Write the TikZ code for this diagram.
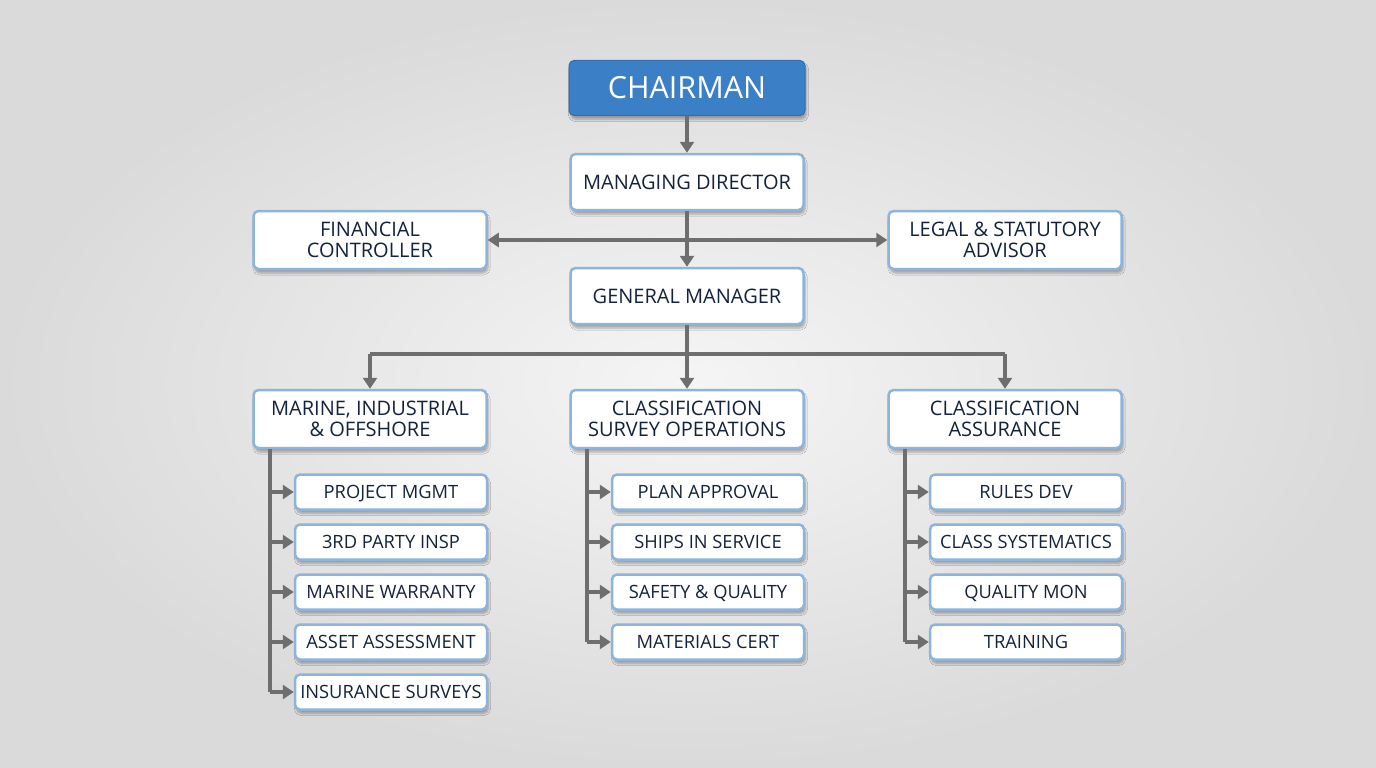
\documentclass[tikz,border=0pt]{standalone}
\usepackage{fontspec}
\setmainfont{Open Sans}
\usetikzlibrary{arrows.meta,shadows.blur,positioning}
\definecolor{bgin}{HTML}{F5F5F5}
\definecolor{bgout}{HTML}{DADADA}
\definecolor{chair}{HTML}{3B80C6}
\definecolor{chairline}{HTML}{2F6EAE}
\definecolor{boxline}{HTML}{8DB4DC}
\definecolor{txt}{HTML}{14233D}
\definecolor{conn}{HTML}{6E6E6E}
\tikzset{
  base/.style={rounded corners=5pt, line width=2.5pt, align=center, inner sep=0pt,
    blur shadow={shadow xshift=1.5pt, shadow yshift=-4pt, shadow blur steps=6, shadow opacity=30}},
  mainbox/.style={base, draw=boxline, fill=white, text=txt, minimum width=233pt, minimum height=56pt,
    font=\fontsize{20}{21}\selectfont},
  onebox/.style={mainbox, text height=14.5pt, text depth=0pt},
  subbox/.style={base, draw=boxline, fill=white, text=txt, minimum width=192pt, minimum height=35pt,
    font=\fontsize{18.3}{21}\selectfont, text height=13pt, text depth=0pt},
  topbox/.style={base, draw=chairline, fill=chair, text=white, minimum width=236pt, minimum height=55pt,
    line width=1pt, font=\fontsize{30.5}{34}\selectfont, text height=22pt, text depth=0pt},
  link/.style={draw=conn, line width=4pt},
  arr/.style={link, -{Triangle[length=11pt,width=14pt]}}
}
\begin{document}
\begin{tikzpicture}[x=1pt,y=-1pt]
\shade[inner color=bgin, outer color=bgout] (0,0) rectangle (1376,768);
\useasboundingbox (0,0) rectangle (1376,768);

\node[topbox] (ch) at (687,88) {CHAIRMAN};
\node[onebox] (md) at (687,182) {MANAGING DIRECTOR};
\node[mainbox, minimum height=58pt] (fc) at (370,240) {FINANCIAL\\CONTROLLER};
\node[mainbox, minimum height=58pt] (la) at (1005,240) {LEGAL \& STATUTORY\\ADVISOR};
\node[onebox] (gm) at (687,296) {GENERAL MANAGER};
\node[mainbox, minimum height=58pt] (mio) at (370,419) {MARINE, INDUSTRIAL\\\& OFFSHORE};
\node[mainbox, minimum height=58pt] (cso) at (687,419) {CLASSIFICATION\\SURVEY OPERATIONS};
\node[mainbox, minimum height=58pt] (ca) at (1005,419) {CLASSIFICATION\\ASSURANCE};

\node[subbox] (a1) at (391,492) {PROJECT MGMT};
\node[subbox] (a2) at (391,542) {3RD PARTY INSP};
\node[subbox] (a3) at (391,592) {MARINE WARRANTY};
\node[subbox] (a4) at (391,642) {ASSET ASSESSMENT};
\node[subbox] (a5) at (391,692) {INSURANCE SURVEYS};

\node[subbox] (b1) at (708,492) {PLAN APPROVAL};
\node[subbox] (b2) at (708,542) {SHIPS IN SERVICE};
\node[subbox] (b3) at (708,592) {SAFETY \& QUALITY};
\node[subbox] (b4) at (708,642) {MATERIALS CERT};

\node[subbox] (c1) at (1026,492) {RULES DEV};
\node[subbox] (c2) at (1026,542) {CLASS SYSTEMATICS};
\node[subbox] (c3) at (1026,592) {QUALITY MON};
\node[subbox] (c4) at (1026,642) {TRAINING};

% top links
\draw[arr] (ch) -- (md);
\draw[arr] (md) -- (gm);
\coordinate (j1) at (md.south |- fc.east);
\draw[arr] (j1) -- (fc.east);
\draw[arr] (j1) -- (la.west);

% GM to divisions
\coordinate (j2) at ($(gm.south)+(0,29)$);
\draw[link] (mio.north |- j2) -- (ca.north |- j2);
\draw[link] (gm.south) -- (j2);
\draw[arr] (j2) -- (cso.north);
\draw[arr] (mio.north |- j2) -- (mio.north);
\draw[arr] (ca.north |- j2) -- (ca.north);

% branches
\coordinate (ta) at (270,0);
\coordinate (tb) at (587,0);
\coordinate (tc) at (905,0);
\draw[link] (ta |- mio.south) -- (ta |- a5.west);
\foreach \n in {a1,a2,a3,a4,a5} \draw[arr] (ta |- \n.west) -- (\n.west);
\draw[link] (tb |- cso.south) -- (tb |- b4.west);
\foreach \n in {b1,b2,b3,b4} \draw[arr] (tb |- \n.west) -- (\n.west);
\draw[link] (tc |- ca.south) -- (tc |- c4.west);
\foreach \n in {c1,c2,c3,c4} \draw[arr] (tc |- \n.west) -- (\n.west);
\end{tikzpicture}
\end{document}
